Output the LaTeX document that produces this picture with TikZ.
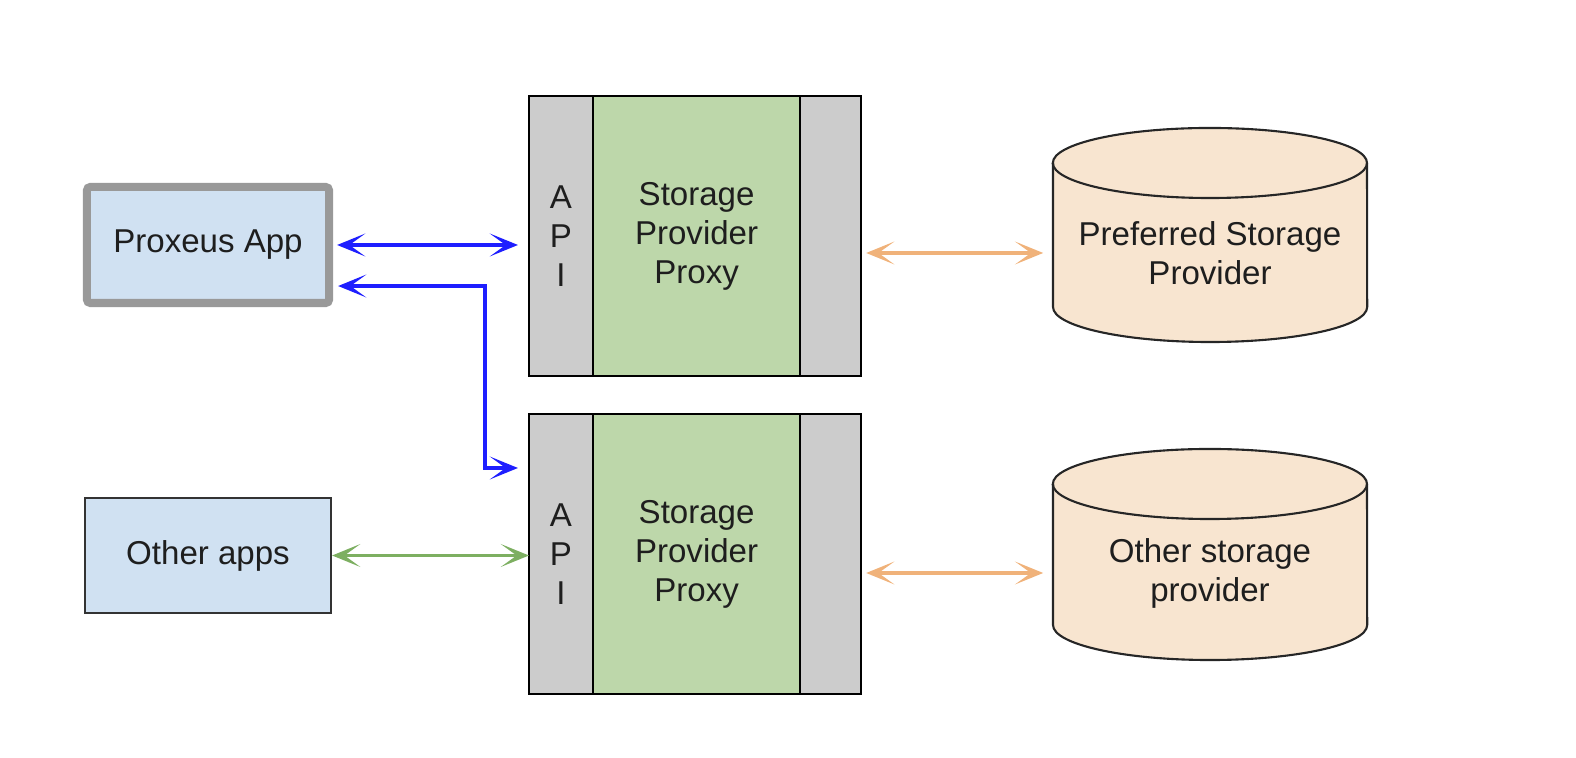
\documentclass[tikz,border=0pt]{standalone}
\usepackage{fontspec}
\setmainfont{Liberation Sans}
\usetikzlibrary{positioning,arrows.meta}

\definecolor{appblue}{HTML}{D0E1F2}
\definecolor{proxygreen}{HTML}{BDD7AA}
\definecolor{sidegray}{HTML}{CCCCCC}
\definecolor{storeorange}{HTML}{F8E5D0}
\definecolor{linkblue}{HTML}{1E1EFF}
\definecolor{linkgreen}{HTML}{7DAF61}
\definecolor{linkorange}{HTML}{F0B27A}
\definecolor{textgray}{HTML}{1E1E1E}

\tikzset{
	app/.style={rectangle, fill=appblue, text=textgray, minimum width=2.46cm, minimum height=1.15cm},
	side/.style={rectangle, draw=black, line width=0.6pt, fill=sidegray, outer sep=0pt, minimum width=0.64cm, minimum height=2.8cm, align=center, text=textgray},
	core/.style={side, fill=proxygreen, minimum width=2.07cm},
	store/.style={rectangle, minimum width=3.14cm, align=center, text=textgray},
	cyl/.style={draw=black!85, line width=0.6pt, fill=storeorange},
	link/.style={line width=0.9pt, <->}
}

\begin{document}
\begin{tikzpicture}[x=0.01cm, y=0.01cm, font=\fontsize{9.4}{11.1}\selectfont,
	>={Stealth[length=8pt,width=6.5pt,inset=4.5pt]}]
	\useasboundingbox (0,0) rectangle (1576,758);

	% apps on the left
	\node[app, draw=black!40, line width=2.3pt, rounded corners=1pt, minimum width=2.42cm, minimum height=1.16cm] (proxeus) at (208,513) {Proxeus App};
	\node[app, draw=black!80, line width=0.6pt] (others) at (208,202.5) {Other apps};

	% the two proxies
	\node[side] (api1) at (561,522) {A\\P\\I};
	\node[core] (spp1) [right=0pt of api1] {Storage\\Provider\\Proxy};
	\node[side, minimum width=0.61cm] (out1) [right=0pt of spp1] {};

	\node[side] (api2) at (561,204) {A\\P\\I};
	\node[core] (spp2) [right=0pt of api2] {Storage\\Provider\\Proxy};
	\node[side, minimum width=0.61cm] (out2) [right=0pt of spp2] {};

	% storage providers
	\draw[cyl] (1053,595) -- (1053,451) arc[start angle=180, end angle=360, x radius=1.57cm, y radius=0.35cm]
		-- (1367,595) arc[start angle=0, end angle=180, x radius=1.57cm, y radius=0.35cm] -- cycle;
	\draw[cyl, fill=none] (1367,595) arc[start angle=0, end angle=-180, x radius=1.57cm, y radius=0.35cm];
	\node[store] (pref) at (1210,505) {Preferred Storage\\Provider};

	\draw[cyl] (1053,274) -- (1053,133) arc[start angle=180, end angle=360, x radius=1.57cm, y radius=0.35cm]
		-- (1367,274) arc[start angle=0, end angle=180, x radius=1.57cm, y radius=0.35cm] -- cycle;
	\draw[cyl, fill=none] (1367,274) arc[start angle=0, end angle=-180, x radius=1.57cm, y radius=0.35cm];
	\node[store] (otherstore) at (1210,185) {Other storage\\provider};

	% links
	\coordinate (bend) at (485,290);
	\draw[link, linkblue, shorten <=0.04cm, shorten >=0.11cm] (proxeus.east) -- (proxeus.east -| api1.west);
	\draw[link, linkblue, shorten <=0.05cm, shorten >=0.11cm] ([yshift=-0.41cm]proxeus.east) -| (bend) -- (bend -| api2.west);
	\draw[link, linkgreen] (others.east) -- (others.east -| api2.west);
	\draw[link, linkorange, shorten <=0.05cm, shorten >=0.09cm] (out1.east |- pref.west) -- (pref.west);
	\draw[link, linkorange, shorten <=0.05cm, shorten >=0.09cm] (out2.east |- otherstore.west) -- (otherstore.west);
\end{tikzpicture}
\end{document}
